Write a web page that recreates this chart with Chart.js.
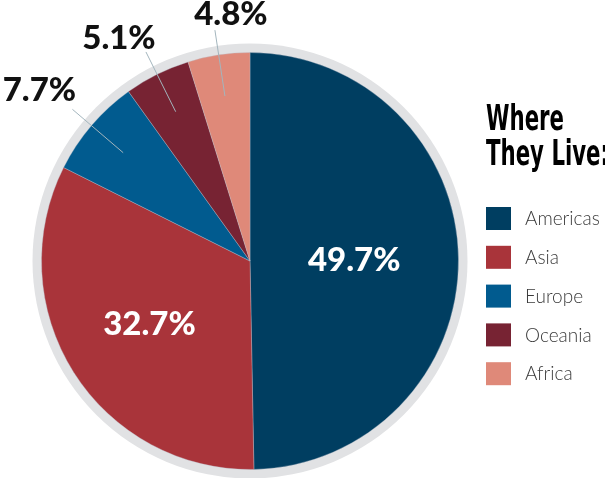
<!DOCTYPE html>
<html>
<head>
<meta charset="utf-8">
<script src="https://cdn.jsdelivr.net/npm/chart.js@4.4.1/dist/chart.umd.min.js"></script>
<style>
  html, body { margin: 0; padding: 0; background: #fff; }
  #wrap { width: 605px; height: 478px; }
</style>
</head>
<body>
<div id="wrap"><canvas id="pie" width="605" height="478"></canvas></div>
<script>
const regions = ['Americas', 'Asia', 'Europe', 'Oceania', 'Africa'];
const shares  = [49.7, 32.7, 7.7, 5.1, 4.8];
const colors  = ['#003e61', '#a9343a', '#015b8f', '#772333', '#df8979'];
const legendTitle = ['Where', 'They Live:'];

// label placement per slice: inside labels sit at a fraction of the radius,
// outside ones get a leader line and a nudge for the text
const labelPlacement = [
    { inside: true,  at: 0.50 },
    { inside: true,  at: 0.57 },
    { inside: false, dx: -33, dy: -8 },
    { inside: false, dx: -27, dy: -3 },
    { inside: false, dx: 16,  dy: -5 },
];

const ringPlugin = {
    id: 'ring',
    beforeDatasetsDraw(chart) {
        const arc = chart.getDatasetMeta(0).data[0];
        if (!arc) return;
        const ctx = chart.ctx;
        ctx.save();
        ctx.beginPath();
        ctx.arc(arc.x, arc.y, arc.outerRadius + 9, 0, Math.PI * 2);
        ctx.fillStyle = '#e1e2e4';
        ctx.fill();
        ctx.restore();
    },
};

const sliceLabels = {
    id: 'sliceLabels',
    afterDatasetsDraw(chart) {
        const ctx = chart.ctx;
        const meta = chart.getDatasetMeta(0);
        ctx.save();
        ctx.font = '900 33px Lato, "Noto Sans", sans-serif';
        meta.data.forEach((arc, i) => {
            const p = labelPlacement[i];
            const mid = (arc.startAngle + arc.endAngle) / 2;
            const r = arc.outerRadius;
            const text = shares[i].toFixed(1) + '%';
            if (p.inside) {
                ctx.fillStyle = '#fff';
                ctx.textAlign = 'center';
                ctx.textBaseline = 'middle';
                ctx.fillText(text, arc.x + Math.cos(mid) * r * p.at, arc.y + Math.sin(mid) * r * p.at);
            } else {
                const x1 = arc.x + Math.cos(mid) * r * 0.80;
                const y1 = arc.y + Math.sin(mid) * r * 0.80;
                const x2 = arc.x + Math.cos(mid) * r * 1.12;
                const y2 = arc.y + Math.sin(mid) * r * 1.12;
                ctx.beginPath();
                ctx.moveTo(x1, y1);
                ctx.lineTo(x2, y2);
                ctx.strokeStyle = '#a3b5bd';
                ctx.lineWidth = 1;
                ctx.stroke();
                ctx.fillStyle = '#111';
                ctx.textAlign = 'center';
                ctx.textBaseline = 'alphabetic';
                ctx.fillText(text, x2 + p.dx, y2 + p.dy);
            }
        });
        ctx.restore();
    },
};

const sideLegend = {
    id: 'sideLegend',
    afterDraw(chart) {
        const ctx = chart.ctx;
        const left = 486;
        ctx.save();
        // condensed title, squeezed so "Where" is about 78px wide
        ctx.fillStyle = '#000';
        ctx.textAlign = 'left';
        ctx.textBaseline = 'alphabetic';
        ctx.font = 'bold 35px "DejaVu Sans Condensed", "Liberation Sans", sans-serif';
        const squeeze = 78 / ctx.measureText(legendTitle[0]).width;
        legendTitle.forEach((line, i) => {
            ctx.save();
            ctx.translate(left, 130 + i * 35);
            ctx.scale(squeeze, 1);
            ctx.fillText(line, 0, 0);
            ctx.restore();
        });
        // items
        ctx.font = '300 19px Lato, "Open Sans", sans-serif';
        ctx.textBaseline = 'middle';
        chart.data.labels.forEach((name, i) => {
            const top = 207 + i * 38.8;
            ctx.fillStyle = chart.data.datasets[0].backgroundColor[i];
            ctx.fillRect(left, top, 25, 23);
            ctx.fillStyle = '#3a3a3a';
            ctx.fillText(name, 525, top + 12);
        });
        ctx.restore();
    },
};

new Chart(document.getElementById('pie'), {
    type: 'pie',
    data: {
        labels: regions,
        datasets: [{
            data: shares,
            backgroundColor: colors,
            borderColor: 'rgba(190,195,205,0.35)',
            borderWidth: 1,
        }],
    },
    options: {
        responsive: false,
        animation: false,
        layout: { padding: { left: 41, top: 52, right: 146, bottom: 8 } },
        plugins: { legend: { display: false }, tooltip: { enabled: false } },
    },
    plugins: [ringPlugin, sliceLabels, sideLegend],
});
</script>
</body>
</html>
